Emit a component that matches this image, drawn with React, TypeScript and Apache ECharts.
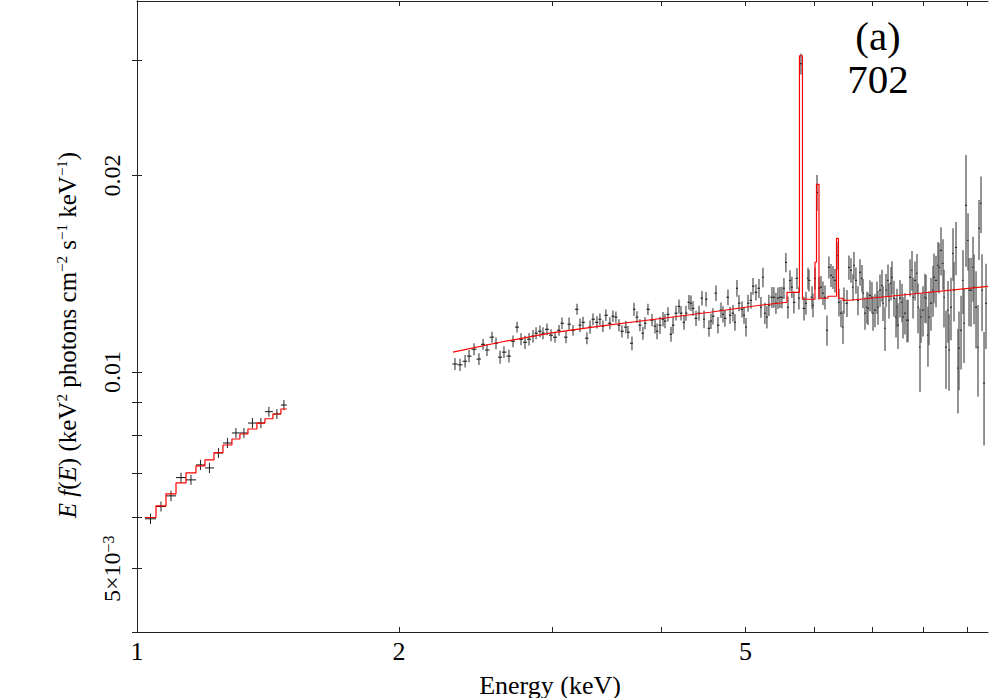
import React, { useEffect, useRef } from "react";
import * as echarts from "echarts";

// ---------------- data ----------------
// low-energy segment: bin edges (keV), model levels, data
const lowBinEdges = [1.0214, 1.0515, 1.0797, 1.1087, 1.1384, 1.1688, 1.197, 1.2258, 1.2553, 1.2855, 1.313, 1.3411, 1.3733, 1.4027, 1.4326, 1.4633, 1.4867];
const lowModel = [0.005989, 0.006241, 0.00651, 0.006767, 0.007009, 0.007184, 0.007337, 0.007527, 0.007734, 0.007899, 0.00804, 0.008182, 0.008356, 0.008484, 0.008627, 0.00878];
const lowFlux = [0.005962, 0.006226, 0.006464, 0.006894, 0.006839, 0.007209, 0.007133, 0.007519, 0.007789, 0.008069, 0.008069, 0.008356, 0.008356, 0.008697, 0.008627, 0.008904];
const lowErr = [0.00011, 0.00011, 0.00012, 0.00012, 0.00012, 0.00013, 0.00013, 0.00013, 0.00014, 0.00014, 0.00014, 0.00015, 0.00015, 0.00015, 0.00015, 0.00016];

// high-energy segment data
const hiEnergy = [
  2.319, 2.35, 2.382, 2.407, 2.439, 2.471, 2.498, 2.524, 2.558, 2.585, 2.613, 2.64, 2.675, 2.704, 2.733, 2.762, 2.791, 2.821, 2.851, 2.874, 2.904, 2.927, 2.958,
  2.99, 3.022, 3.054, 3.078, 3.111, 3.136, 3.169, 3.203, 3.228, 3.254, 3.288, 3.315, 3.341, 3.376, 3.403, 3.43, 3.457, 3.494, 3.522, 3.55, 3.579, 3.607, 3.645, 3.665, 3.704, 3.724, 3.753, 3.783, 3.813, 3.834, 3.864, 3.906,
  3.937, 3.958, 3.989, 4.021, 4.042, 4.074, 4.107, 4.129, 4.162, 4.195, 4.217, 4.251, 4.273, 4.307, 4.33, 4.353, 4.388, 4.423, 4.458, 4.482, 4.506, 4.541, 4.565, 4.589, 4.626, 4.65, 4.688, 4.713, 4.737, 4.775, 4.801, 4.839, 4.864, 4.89, 4.916, 4.956, 4.982, 5.008, 5.035, 5.075, 5.102, 5.142,
  5.183, 5.21, 5.238, 5.265, 5.293, 5.321, 5.364, 5.392, 5.421, 5.45, 5.479, 5.508, 5.537, 5.566, 5.596, 5.626, 5.655, 5.685, 5.731, 5.761, 5.792, 5.839, 5.869, 5.901, 5.916, 5.964, 5.979, 6.011, 6.043, 6.075, 6.107, 6.139, 6.172, 6.205, 6.237, 6.271, 6.304, 6.337, 6.371, 6.405, 6.439, 6.473, 6.49, 6.542, 6.576,
  6.611, 6.647, 6.664, 6.699, 6.735, 6.771, 6.807, 6.825, 6.861, 6.897, 6.916, 6.952, 6.989, 7.008, 7.045, 7.082, 7.101, 7.139, 7.177, 7.196, 7.234, 7.253, 7.292, 7.311, 7.35, 7.369, 7.408, 7.448, 7.467, 7.487, 7.527, 7.567, 7.587, 7.627, 7.668, 7.688, 7.729, 7.77, 7.791, 7.832,
  7.873, 7.894, 7.936, 7.957, 7.999, 8.041, 8.063, 8.105, 8.127, 8.17, 8.214, 8.235, 8.279, 8.323, 8.345, 8.389, 8.434, 8.456, 8.501, 8.546, 8.569, 8.614, 8.66, 8.683, 8.729, 8.775, 8.798, 8.846, 8.892, 8.916, 8.963, 9.011, 9.035, 9.083, 9.131, 9.155, 9.204, 9.252, 9.277, 9.326, 9.351, 9.401, 9.45,
];
const hiFlux = [
  0.01029, 0.01026, 0.01039, 0.01058, 0.01084, 0.01047, 0.01103, 0.01081, 0.01131, 0.01107, 0.01054, 0.01073, 0.01058, 0.01115, 0.01172, 0.01123, 0.01111, 0.01123, 0.01135, 0.01147, 0.01155, 0.01147, 0.01163,
  0.01139, 0.01131, 0.01159, 0.01188, 0.01131, 0.01184, 0.01159, 0.01248, 0.0118, 0.01192, 0.01127, 0.01172, 0.01205, 0.01192, 0.01205, 0.01176, 0.01222, 0.01188, 0.01218, 0.01214, 0.0118, 0.01155, 0.01172, 0.01151, 0.01107, 0.01248, 0.01214, 0.0118, 0.01147, 0.01188, 0.01248, 0.01201,
  0.01176, 0.01155, 0.0118, 0.01205, 0.01197, 0.01226, 0.01143, 0.0118, 0.01231, 0.01261, 0.01231, 0.01192, 0.01231, 0.01279, 0.01275, 0.01252, 0.01209, 0.01231, 0.01298, 0.01205, 0.01293, 0.01167, 0.01197, 0.01218, 0.01321, 0.0118, 0.01244, 0.01226, 0.01209, 0.01302, 0.01222, 0.01231, 0.01192, 0.01344, 0.01275, 0.01248, 0.01222, 0.01172, 0.01275, 0.01288, 0.01354, 0.01325,
  0.01344, 0.01257, 0.01397, 0.01231, 0.01214, 0.01266, 0.01302, 0.01302, 0.01275, 0.01298, 0.01302, 0.01302, 0.01344, 0.01472, 0.01257, 0.01382, 0.01349, 0.01279, 0.01392, 0.01298, 0.02966, 0.01252, 0.01275, 0.01392, 0.01382, 0.01302, 0.01266, 0.01392, 0.01884, 0.01344, 0.01349, 0.01321, 0.01302, 0.01159, 0.01447, 0.01407, 0.01397, 0.01382, 0.01509, 0.01279, 0.01231, 0.01172, 0.01288, 0.01275, 0.01447,
  0.01432, 0.01349, 0.01457, 0.01382, 0.01288, 0.01422, 0.01392, 0.01321, 0.01231, 0.01257, 0.01252, 0.01311, 0.01302, 0.01231, 0.01244, 0.01302, 0.01257, 0.01335, 0.01358, 0.01275, 0.01167, 0.01335, 0.01382, 0.01288, 0.01368, 0.01397, 0.01298, 0.01214, 0.01257, 0.0118, 0.01298, 0.01279, 0.01214, 0.01231, 0.01201, 0.01201, 0.01397, 0.01432, 0.01302, 0.01382,
  0.01417, 0.01257, 0.01092, 0.01214, 0.01244, 0.01302, 0.01298, 0.01139, 0.01214, 0.01275, 0.01335, 0.01397, 0.01382, 0.01457, 0.01447, 0.01536, 0.01467, 0.01302, 0.01092, 0.01244, 0.01081, 0.01257, 0.0152, 0.01335, 0.01552, 0.01014, 0.01088, 0.01159, 0.01382, 0.01188, 0.018, 0.01591, 0.01335, 0.01335, 0.01447, 0.01349, 0.01257, 0.01092, 0.0166, 0.01813, 0.01335, 0.00962, 0.01275,
];
const hiErr = [
  0.00022, 0.00022, 0.00023, 0.00023, 0.00023, 0.00022, 0.00021, 0.00023, 0.00022, 0.00023, 0.00024, 0.00022, 0.00024, 0.00023, 0.00022, 0.00024, 0.00026, 0.00025, 0.00025, 0.00024, 0.00024, 0.00024, 0.00024,
  0.00024, 0.00022, 0.00022, 0.00024, 0.00024, 0.00028, 0.00022, 0.00024, 0.00028, 0.00024, 0.00024, 0.00027, 0.00025, 0.00026, 0.00025, 0.00024, 0.00025, 0.00025, 0.00025, 0.00024, 0.00025, 0.00025, 0.00025, 0.00026, 0.00027, 0.00029, 0.00025, 0.00025, 0.00026, 0.00025, 0.00025, 0.00026,
  0.0003, 0.00032, 0.00036, 0.00031, 0.0003, 0.00031, 0.0003, 0.00035, 0.00032, 0.00031, 0.00031, 0.00031, 0.00033, 0.00033, 0.00035, 0.00032, 0.00033, 0.00033, 0.00033, 0.00038, 0.00033, 0.00034, 0.00033, 0.00035, 0.00036, 0.00034, 0.00034, 0.00035, 0.00036, 0.00036, 0.00036, 0.00036, 0.00035, 0.0004, 0.00036, 0.00036, 0.00036, 0.00038, 0.00038, 0.00038, 0.0004, 0.00038,
  0.00045, 0.00046, 0.00048, 0.00046, 0.00048, 0.00047, 0.00048, 0.00047, 0.00048, 0.00049, 0.00048, 0.00049, 0.0005, 0.0005, 0.00049, 0.0005, 0.00051, 0.0005, 0.00052, 0.00051, 0.0011, 0.00052, 0.00051, 0.00053, 0.00053, 0.00052, 0.00053, 0.00054, 0.0012, 0.00054, 0.00054, 0.00055, 0.00055, 0.00062, 0.00056, 0.00057, 0.00057, 0.00058, 0.00075, 0.00062, 0.0006, 0.00068, 0.0006, 0.00061, 0.00062,
  0.00062, 0.00063, 0.0007, 0.00064, 0.00066, 0.00066, 0.00067, 0.00068, 0.0007, 0.0007, 0.00071, 0.00072, 0.00072, 0.00074, 0.00073, 0.00074, 0.00075, 0.00076, 0.00076, 0.00078, 0.0009, 0.00078, 0.00079, 0.0008, 0.0008, 0.00081, 0.00082, 0.00084, 0.00085, 0.00095, 0.00086, 0.00087, 0.00088, 0.00089, 0.0009, 0.0009, 0.00092, 0.001, 0.00094, 0.00095,
  0.001, 0.0011, 0.0016, 0.00105, 0.0011, 0.00112, 0.0011, 0.0012, 0.00115, 0.00118, 0.0012, 0.00122, 0.00125, 0.00125, 0.00128, 0.0013, 0.0013, 0.00132, 0.0015, 0.00135, 0.00145, 0.00138, 0.0014, 0.0014, 0.00145, 0.0015, 0.0015, 0.0015, 0.00155, 0.00155, 0.0035, 0.0016, 0.0016, 0.00162, 0.00165, 0.00165, 0.0017, 0.00175, 0.00175, 0.0018, 0.0018, 0.0019, 0.0019,
];

// high-energy model (vertices of the red curve)
const modelEnergy = [2.307, 2.613, 2.982, 3.403, 3.937, 4.553, 5.196, 5.582, 5.582, 5.769, 5.769, 5.815, 5.815, 6.011, 6.011, 6.035, 6.035, 6.075, 6.075, 6.221, 6.221, 6.363, 6.363, 6.396, 6.396, 6.473, 6.473, 6.594, 7.936, 9.5];
const modelFlux = [0.010729, 0.011111, 0.011471, 0.011757, 0.012049, 0.01235, 0.012658, 0.012792, 0.01325, 0.01325, 0.030507, 0.030507, 0.012928, 0.012928, 0.014729, 0.014729, 0.01938, 0.01938, 0.012973, 0.012973, 0.013065, 0.013065, 0.016023, 0.016023, 0.012973, 0.012973, 0.012882, 0.012882, 0.013204, 0.013533];

// axes
const xRange = [1, 9.5];
const yRange = [0.004, 0.037];
const xTickValues = [1, 2, 3, 4, 5, 6, 7, 8, 9];
const xLabelValues = [1, 2, 5];
const yTickValues = [0.004, 0.005, 0.006, 0.007, 0.008, 0.009, 0.01, 0.02, 0.03];
const yLabelValues = [0.005, 0.01, 0.02];

const panelLabel = "(a)";
const panelId = "702";
const xTitle = "Energy (keV)";

// ---------------- chart ----------------
const L = Math.log10;
const FONT = "Liberation Serif";

function buildOption() {
  const crossLow = lowFlux.map((v, i) => {
    const e0 = lowBinEdges[i];
    const e1 = lowBinEdges[i + 1];
    const ec = Math.sqrt(e0 * e1);
    return [L(ec), L(v), L(e0), L(e1), L(v - lowErr[i]), L(v + lowErr[i])];
  });
  const n = hiEnergy.length;
  const crossHi = hiFlux.map((v, i) => {
    const e = hiEnergy[i];
    const prev = i > 0 ? hiEnergy[i - 1] : e - (hiEnergy[1] - hiEnergy[0]);
    const next = i < n - 1 ? hiEnergy[i + 1] : e + (e - hiEnergy[n - 2]);
    const lo = (prev + e) / 2;
    const hi = (e + next) / 2;
    return [L(e), L(v), L(lo), L(hi), L(v - hiErr[i]), L(v + hiErr[i])];
  });

  const lowStep: number[][] = [];
  lowModel.forEach((m, i) => {
    lowStep.push([L(lowBinEdges[i]), L(m)]);
    lowStep.push([L(lowBinEdges[i + 1]), L(m)]);
  });
  const hiModel = modelEnergy.map((e, i) => [L(e), L(modelFlux[i])]);

  const crossRender = (color: string, vColor: string, vWidth: number) =>
    (params: any, api: any) => {
      const c = api.coord([api.value(0), api.value(1)]);
      const l = api.coord([api.value(2), api.value(1)]);
      const r = api.coord([api.value(3), api.value(1)]);
      const lo = api.coord([api.value(0), api.value(4)]);
      const hi = api.coord([api.value(0), api.value(5)]);
      return {
        type: "group",
        children: [
          { type: "line", shape: { x1: c[0], y1: hi[1], x2: c[0], y2: lo[1] }, style: { stroke: vColor, lineWidth: vWidth } },
          { type: "line", shape: { x1: l[0], y1: c[1], x2: r[0], y2: c[1] }, style: { stroke: color, lineWidth: 1 } },
        ],
      };
    };

  const axisLineStyle = { color: "#222", width: 1 };
  const xAxisBase = {
    type: "value",
    min: L(xRange[0]),
    max: L(xRange[1]),
    splitLine: { show: false },
    axisLine: { show: true, lineStyle: axisLineStyle },
    axisTick: { show: true, inside: true, length: 5, customValues: xTickValues.map(L), lineStyle: axisLineStyle },
  };
  const yAxisBase = {
    type: "value",
    min: L(yRange[0]),
    max: L(yRange[1]),
    splitLine: { show: false },
    axisLine: { show: true, lineStyle: axisLineStyle },
    axisTick: { show: true, inside: true, length: 5, customValues: yTickValues.map(L), lineStyle: axisLineStyle },
  };

  return {
    animation: false,
    backgroundColor: "#fff",
    grid: { left: 137, top: 1, width: 851, height: 631, containLabel: false },
    xAxis: [
      {
        ...xAxisBase,
        position: "bottom",
        axisLabel: {
          customValues: xLabelValues.map(L),
          margin: 6,
          color: "#000",
          fontFamily: FONT,
          fontSize: 26,
          lineHeight: 26,
          formatter: (v: number) => String(Math.round(Math.pow(10, v))),
        },
      },
      { ...xAxisBase, position: "top", axisLabel: { show: false } },
    ],
    yAxis: [
      {
        ...yAxisBase,
        position: "left",
        axisLabel: {
          customValues: yLabelValues.map(L),
          rotate: 90,
          margin: 13,
          color: "#000",
          fontFamily: FONT,
          fontSize: 24,
          lineHeight: 24,
          formatter: (v: number) => {
            const val = Math.pow(10, v);
            if (Math.abs(val - 0.005) < 1e-6) return "5×10{s|−3}";
            return val.toFixed(2);
          },
          rich: {
            s: { fontFamily: FONT, fontSize: 16, lineHeight: 16, verticalAlign: "top", color: "#000" },
          },
        },
      },
      { ...yAxisBase, position: "right", axisLabel: { show: false } },
    ],
    series: [
      {
        type: "custom",
        name: "low data",
        clip: true,
        renderItem: crossRender("#111", "#222", 1),
        data: crossLow,
        encode: { x: 0, y: 1 },
        z: 2,
      },
      {
        type: "custom",
        name: "high data",
        clip: true,
        renderItem: crossRender("#111", "#5a5a5a", 1.3),
        data: crossHi,
        encode: { x: 0, y: 1 },
        z: 2,
      },
      {
        type: "line",
        name: "low model",
        data: lowStep,
        showSymbol: false,
        symbol: "none",
        lineStyle: { color: "#ff0000", width: 1.2 },
        z: 3,
      },
      {
        type: "line",
        name: "high model",
        data: hiModel,
        showSymbol: false,
        symbol: "none",
        lineStyle: { color: "#ff0000", width: 1.2 },
        z: 3,
      },
    ],
    graphic: [
      {
        type: "text",
        x: 550,
        y: 685,
        style: { text: xTitle, fontFamily: FONT, fontSize: 26, lineHeight: 22, fill: "#000", textAlign: "center", textVerticalAlign: "middle", verticalAlign: "middle" },
      },
      {
        type: "text",
        x: 67,
        y: 335,
        rotation: Math.PI / 2,
        style: {
          text: "{i|E f}{n|(}{i|E}{n|) (keV}{s|2}{n| photons cm}{s|−2}{n| s}{s|−1}{n| keV}{s|−1}{n|)}",
          textAlign: "center",
          textVerticalAlign: "middle",
          verticalAlign: "middle",
          fill: "#000",
          rich: {
            i: { fontFamily: FONT, fontSize: 25, lineHeight: 25, fontStyle: "italic", fill: "#000" },
            n: { fontFamily: FONT, fontSize: 25, lineHeight: 25, fill: "#000" },
            s: { fontFamily: FONT, fontSize: 15, lineHeight: 15, verticalAlign: "top", fill: "#000" },
          },
        },
      },
      {
        type: "text",
        x: 878,
        y: 36,
        style: { text: panelLabel, fontFamily: FONT, fontSize: 41, lineHeight: 36, fill: "#000", textAlign: "center", textVerticalAlign: "middle", verticalAlign: "middle" },
      },
      {
        type: "text",
        x: 878,
        y: 79,
        style: { text: panelId, fontFamily: FONT, fontSize: 41, lineHeight: 36, fill: "#000", textAlign: "center", textVerticalAlign: "middle", verticalAlign: "middle" },
      },
    ],
  };
}

export default function App() {
  const ref = useRef<HTMLDivElement>(null);
  useEffect(() => {
    if (!ref.current) return;
    const chart = echarts.init(ref.current, null, { renderer: "svg" });
    chart.setOption(buildOption() as any);
    return () => chart.dispose();
  }, []);
  return <div ref={ref} style={{ position: "fixed", left: 0, top: 0, width: 989, height: 698, background: "#fff" }} />;
}
